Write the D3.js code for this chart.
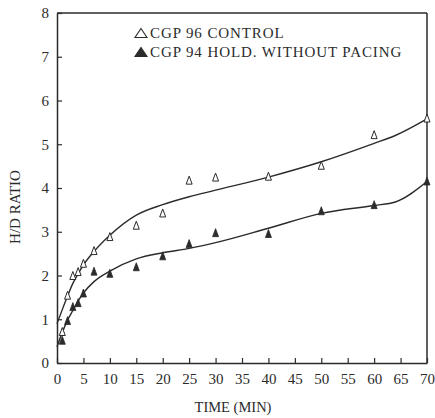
<!DOCTYPE html>
<html><head><meta charset="utf-8">
<script src="https://cdn.jsdelivr.net/npm/d3@7"></script>
<style>body{margin:0;background:#fff}svg{display:block}</style>
</head><body><svg id="c" width="435" height="418"></svg>
<script>
const controlTimes = [1,2,3,4,5,7,10,15,20,25,30,40,50,60,70];
const controlValues = [0.72,1.55,2.0,2.09,2.28,2.57,2.89,3.15,3.43,4.18,4.25,4.27,4.52,5.22,5.6];
const holdTimes = [1,2,3,4,5,7,10,15,20,25,30,40,50,60,70];
const holdValues = [0.52,0.97,1.29,1.38,1.6,2.1,2.05,2.2,2.45,2.73,2.98,2.96,3.48,3.62,4.16];
const fitTimes = [0,1,2,3,4,5,7,10,15,20,25,30,40,50,60,64,70];
const controlFit = [0.9,1.22,1.53,1.82,2.04,2.24,2.55,2.92,3.38,3.62,3.8,3.95,4.25,4.6,5.02,5.2,5.58];
const holdFit = [0.37,0.7,0.98,1.2,1.42,1.6,1.86,2.1,2.38,2.52,2.62,2.75,3.08,3.42,3.6,3.68,4.15];
const xTicks = d3.range(0,71,5);
const yTicks = d3.range(0,9,1);
const legendLabels = ["CGP 96 CONTROL","CGP 94 HOLD. WITHOUT PACING"];
const xTitle = "TIME (MIN)";
const yTitle = "H/D RATIO";

const svg = d3.select("#c");
const ink = "#2b2b2b";
const font = "'Liberation Serif','Times New Roman',serif";
const L=57,R=427,T=13,B=363;
const x = d3.scaleLinear().domain([0,70]).range([L,R]);
const y = d3.scaleLinear().domain([0,8]).range([B,T]);

// frame
svg.append("line").attr("x1",L).attr("x2",R).attr("y1",T).attr("y2",T).attr("stroke",ink).attr("stroke-width",1.3);
svg.append("line").attr("x1",R).attr("x2",R).attr("y1",T).attr("y2",B).attr("stroke",ink).attr("stroke-width",1.5);

const xAxis = svg.append("g").attr("transform",`translate(0,${B})`)
  .call(d3.axisBottom(x).tickValues(xTicks).tickSizeInner(-5).tickSizeOuter(0).tickPadding(10));
const yAxis = svg.append("g").attr("transform",`translate(${L},0)`)
  .call(d3.axisLeft(y).tickValues(yTicks).tickSizeInner(-5).tickSizeOuter(0).tickPadding(8));
[xAxis,yAxis].forEach(g=>{
  g.select(".domain").attr("stroke",ink).attr("stroke-width",1.5);
  g.selectAll(".tick line").attr("stroke",ink).attr("stroke-width",1.2);
  g.selectAll("text").attr("fill",ink).attr("font-family",font).attr("font-size",15);
});

svg.append("text").attr("x",233).attr("y",412).attr("text-anchor","middle")
  .attr("font-family",font).attr("font-size",14.5).attr("fill",ink).text(xTitle);
svg.append("text").attr("transform","translate(20,207) rotate(-90)").attr("text-anchor","middle")
  .attr("font-family",font).attr("font-size",15).attr("fill",ink).text(yTitle);

const line = d3.line().x(d=>x(d[0])).y(d=>y(d[1])).curve(d3.curveMonotoneX);
svg.append("path").attr("d",line(fitTimes.map((t,i)=>[t,controlFit[i]])))
  .attr("fill","none").attr("stroke",ink).attr("stroke-width",1.4);
svg.append("path").attr("d",line(fitTimes.map((t,i)=>[t,holdFit[i]])))
  .attr("fill","none").attr("stroke",ink).attr("stroke-width",1.4);

const tri = (w,h)=>`M0,${-h/2}L${w/2},${h/2}L${-w/2},${h/2}Z`;
svg.append("g").selectAll("path").data(controlTimes.map((t,i)=>[t,controlValues[i]])).join("path")
  .attr("transform",d=>`translate(${x(d[0])},${y(d[1])})`).attr("d",tri(6,8))
  .attr("fill","#fff").attr("stroke",ink).attr("stroke-width",1);
svg.append("g").selectAll("path").data(holdTimes.map((t,i)=>[t,holdValues[i]])).join("path")
  .attr("transform",d=>`translate(${x(d[0])},${y(d[1])})`).attr("d",tri(6,8))
  .attr("fill",ink).attr("stroke",ink).attr("stroke-width",0.8);

// legend
const lg = svg.append("g");
legendLabels.forEach((lab,i)=>{
  const cy = 33 + i*19;
  lg.append("path").attr("transform",`translate(141,${cy})`).attr("d",tri(12,9))
    .attr("fill",i===0?"#fff":ink).attr("stroke",ink).attr("stroke-width",1.1);
  lg.append("text").attr("x",150).attr("y",cy+5).attr("font-family",font).attr("font-size",15)
    .attr("fill",ink).attr("letter-spacing",0.9).text(lab);
});
</script></body></html>
